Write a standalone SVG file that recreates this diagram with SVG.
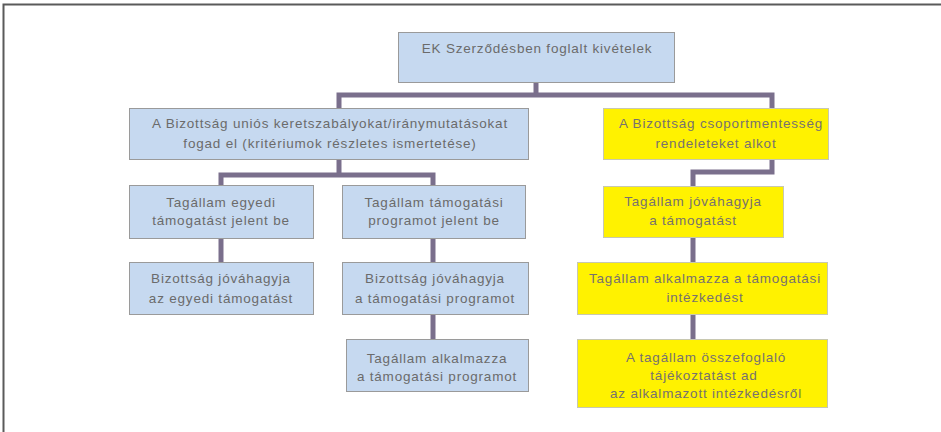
<svg xmlns="http://www.w3.org/2000/svg" width="941" height="432" viewBox="0 0 941 432">
<style>
  .blue { fill: #c6d9f0; stroke: #9a9a9a; stroke-width: 1; }
  .yel { fill: #fff200; stroke: #c8c8b0; stroke-width: 1; }
  .t { font-family: "Liberation Sans", Arial, sans-serif; font-size: 13.5px; letter-spacing: 0.8px; fill: #6b6b6b; text-anchor: middle; dominant-baseline: central; }
  .ty { fill: #77716f; }
  .c { fill: none; stroke: #7a6f8c; stroke-width: 5; stroke-linejoin: miter; }
</style>
<rect x="0" y="0" width="941" height="432" fill="#ffffff"/>
<path d="M3.5 432 V4.5 H941" fill="none" stroke="#5a5a5a" stroke-width="2"/>

<g id="connectors">
  <path class="c" d="M536 82 V95"/>
  <path class="c" d="M339 108 V95 H772 V108"/>
  <path class="c" d="M339 159 V175"/>
  <path class="c" d="M221 185 V175 H433 V185"/>
  <path class="c" d="M221 238 V262"/>
  <path class="c" d="M433 238 V262"/>
  <path class="c" d="M433 314 V339"/>
  <path class="c" d="M772 159 V172 H693 V186"/>
  <path class="c" d="M693 237 V262"/>
  <path class="c" d="M693 314 V339"/>
</g>

<g id="n_root">
  <rect class="blue" x="398.5" y="32.5" width="276" height="50"/>
  <text class="t" x="537" y="48">EK Szerződésben foglalt kivételek</text>
</g>

<g id="n_l2a">
  <rect class="blue" x="129.5" y="108.5" width="399" height="51"/>
  <text class="t" x="330" y="123">A Bizottság uniós keretszabályokat/iránymutatásokat</text>
  <text class="t" x="330" y="143">fogad el (kritériumok részletes ismertetése)</text>
</g>

<g id="n_l2b">
  <rect class="yel" x="603.5" y="108.5" width="225" height="51"/>
  <text class="t ty" x="721" y="123">A Bizottság csoportmentesség</text>
  <text class="t ty" x="716" y="143">rendeleteket alkot</text>
</g>

<g id="n_l3a">
  <rect class="blue" x="129.5" y="185.5" width="184" height="53"/>
  <text class="t" x="221" y="202">Tagállam egyedi</text>
  <text class="t" x="221" y="220">támogatást jelent be</text>
</g>

<g id="n_l3b">
  <rect class="blue" x="342.5" y="185.5" width="183" height="53"/>
  <text class="t" x="434" y="202">Tagállam támogatási</text>
  <text class="t" x="434" y="220">programot jelent be</text>
</g>

<g id="n_l3c">
  <rect class="yel" x="603.5" y="186.5" width="180" height="51"/>
  <text class="t ty" x="693" y="201">Tagállam jóváhagyja</text>
  <text class="t ty" x="693" y="220">a támogatást</text>
</g>

<g id="n_l4a">
  <rect class="blue" x="129.5" y="262.5" width="184" height="52"/>
  <text class="t" x="221" y="278">Bizottság jóváhagyja</text>
  <text class="t" x="221" y="298">az egyedi támogatást</text>
</g>

<g id="n_l4b">
  <rect class="blue" x="342.5" y="262.5" width="186" height="52"/>
  <text class="t" x="435" y="278">Bizottság jóváhagyja</text>
  <text class="t" x="435" y="298">a támogatási programot</text>
</g>

<g id="n_l4c">
  <rect class="yel" x="577.5" y="262.5" width="250" height="52"/>
  <text class="t ty" x="705" y="278">Tagállam alkalmazza a támogatási</text>
  <text class="t ty" x="705" y="297">intézkedést</text>
</g>

<g id="n_l5b">
  <rect class="blue" x="346.5" y="339.5" width="182" height="52"/>
  <text class="t" x="437" y="358">Tagállam alkalmazza</text>
  <text class="t" x="437" y="376">a támogatási programot</text>
</g>

<g id="n_l5c">
  <rect class="yel" x="577.5" y="339.5" width="250" height="68"/>
  <text class="t ty" x="706" y="357">A tagállam összefoglaló</text>
  <text class="t ty" x="704" y="375">tájékoztatást ad</text>
  <text class="t ty" x="706" y="393">az alkalmazott intézkedésről</text>
</g>
</svg>
